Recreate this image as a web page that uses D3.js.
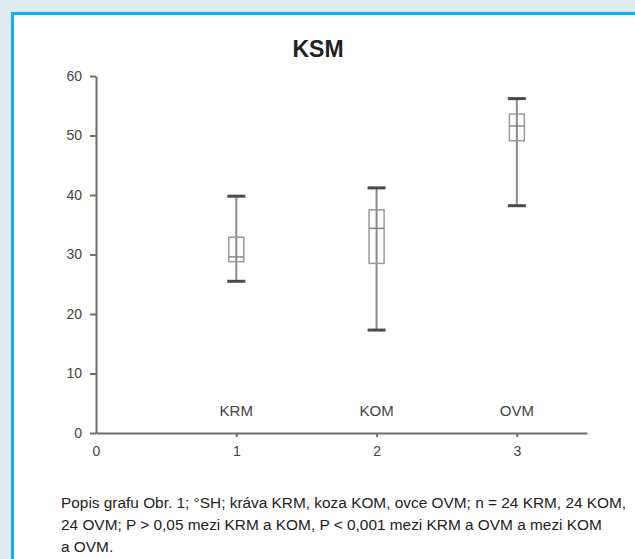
<!DOCTYPE html>
<html>
<head>
<meta charset="utf-8">
<script src="https://cdn.jsdelivr.net/npm/d3@7"></script>
<style>
  body { margin: 0; background: #dfe9f0; }
  svg { display: block; }
</style>
</head>
<body>
<div id="chart"></div>
<script>
// data
var groups = ["KRM", "KOM", "OVM"]
var positions = [1, 2, 3]
var whiskerLow = [25.5, 17.3, 38.2]
var boxLow = [28.8, 28.5, 49.1]
var medians = [29.6, 34.4, 51.6]
var boxHigh = [32.9, 37.5, 53.6]
var whiskerHigh = [39.8, 41.2, 56.2]
var yTicks = [0, 10, 20, 30, 40, 50, 60]
var xTicks = [0, 1, 2, 3]
var captionLines = [
  "Popis grafu Obr. 1; °SH; kráva KRM, koza KOM, ovce OVM; n = 24 KRM, 24 KOM,",
  "24 OVM; P > 0,05 mezi KRM a KOM, P < 0,001 mezi KRM a OVM a mezi KOM",
  "a OVM."
]

var width = 635, height = 559

var svg = d3.select("#chart").append("svg")
  .attr("width", width)
  .attr("height", height)

// frame
svg.append("rect")
  .attr("width", width).attr("height", height)
  .attr("fill", "#dfe9f0")
svg.append("rect")
  .attr("x", 12.5).attr("y", 13.5)
  .attr("width", width).attr("height", height)
  .attr("fill", "#fff")
  .attr("stroke", "#0ab1ee")
  .attr("stroke-width", 3)

var x = d3.scaleLinear().domain([0, 3.5]).range([96, 587])
var y = d3.scaleLinear().domain([0, 60]).range([433, 76])

svg.append("text")
  .attr("x", 318).attr("y", 57)
  .attr("text-anchor", "middle")
  .attr("font-family", "Liberation Sans, Arial, sans-serif")
  .attr("font-weight", "bold")
  .attr("font-size", 23)
  .attr("fill", "#222")
  .text("KSM")

// axes
var yAxis = svg.append("g")
  .attr("transform", "translate(96,0)")
  .call(d3.axisLeft(y).tickValues(yTicks).tickSize(6).tickPadding(8).tickSizeOuter(0))
var xAxis = svg.append("g")
  .attr("transform", "translate(0,433)")
  .call(d3.axisBottom(x).tickValues(xTicks).tickFormat(d3.format("d"))
    .tickSize(4).tickPadding(9).tickSizeOuter(0))

svg.selectAll(".domain, .tick line")
  .attr("stroke", "#6e6e6e")
  .attr("stroke-width", 2)
svg.selectAll(".tick text")
  .attr("fill", "#444")
  .attr("font-family", "Liberation Sans, Arial, sans-serif")
  .attr("font-size", 14)
xAxis.selectAll(".tick")
  .filter(d => d === 0)
  .select("line").remove()

// boxes
var boxW = 15, capW = 18

var g = svg.append("g")
  .selectAll("g")
  .data(groups)
  .join("g")

g.append("line")
  .attr("x1", (d, i) => x(positions[i])).attr("x2", (d, i) => x(positions[i]))
  .attr("y1", (d, i) => y(whiskerLow[i])).attr("y2", (d, i) => y(whiskerHigh[i]))
  .attr("stroke", "#8a8a8a").attr("stroke-width", 2)

g.append("rect")
  .attr("x", (d, i) => x(positions[i]) - boxW / 2)
  .attr("y", (d, i) => y(boxHigh[i]))
  .attr("width", boxW)
  .attr("height", (d, i) => y(boxLow[i]) - y(boxHigh[i]))
  .attr("fill", "none")
  .attr("stroke", "#9a9a9a").attr("stroke-width", 1.5)

g.append("line")
  .attr("x1", (d, i) => x(positions[i]) - boxW / 2).attr("x2", (d, i) => x(positions[i]) + boxW / 2)
  .attr("y1", (d, i) => y(medians[i])).attr("y2", (d, i) => y(medians[i]))
  .attr("stroke", "#8a8a8a").attr("stroke-width", 1.5)

g.selectAll(".cap")
  .data((d, i) => [[positions[i], whiskerLow[i]], [positions[i], whiskerHigh[i]]])
  .join("line")
  .attr("class", "cap")
  .attr("x1", d => x(d[0]) - capW / 2).attr("x2", d => x(d[0]) + capW / 2)
  .attr("y1", d => y(d[1])).attr("y2", d => y(d[1]))
  .attr("stroke", "#4a4a4a").attr("stroke-width", 3)

g.append("text")
  .attr("x", (d, i) => x(positions[i]))
  .attr("y", 416)
  .attr("text-anchor", "middle")
  .attr("font-family", "Liberation Sans, Arial, sans-serif")
  .attr("font-size", 15)
  .attr("fill", "#444")
  .text(d => d)

// caption
svg.append("g")
  .selectAll("text")
  .data(captionLines)
  .join("text")
  .attr("x", 61)
  .attr("y", (d, i) => 508 + i * 22)
  .attr("font-family", "Liberation Sans Narrow, Arial Narrow, sans-serif")
  .attr("font-size", 15.4)
  .attr("fill", "#222")
  .text(d => d)
</script>
</body>
</html>
